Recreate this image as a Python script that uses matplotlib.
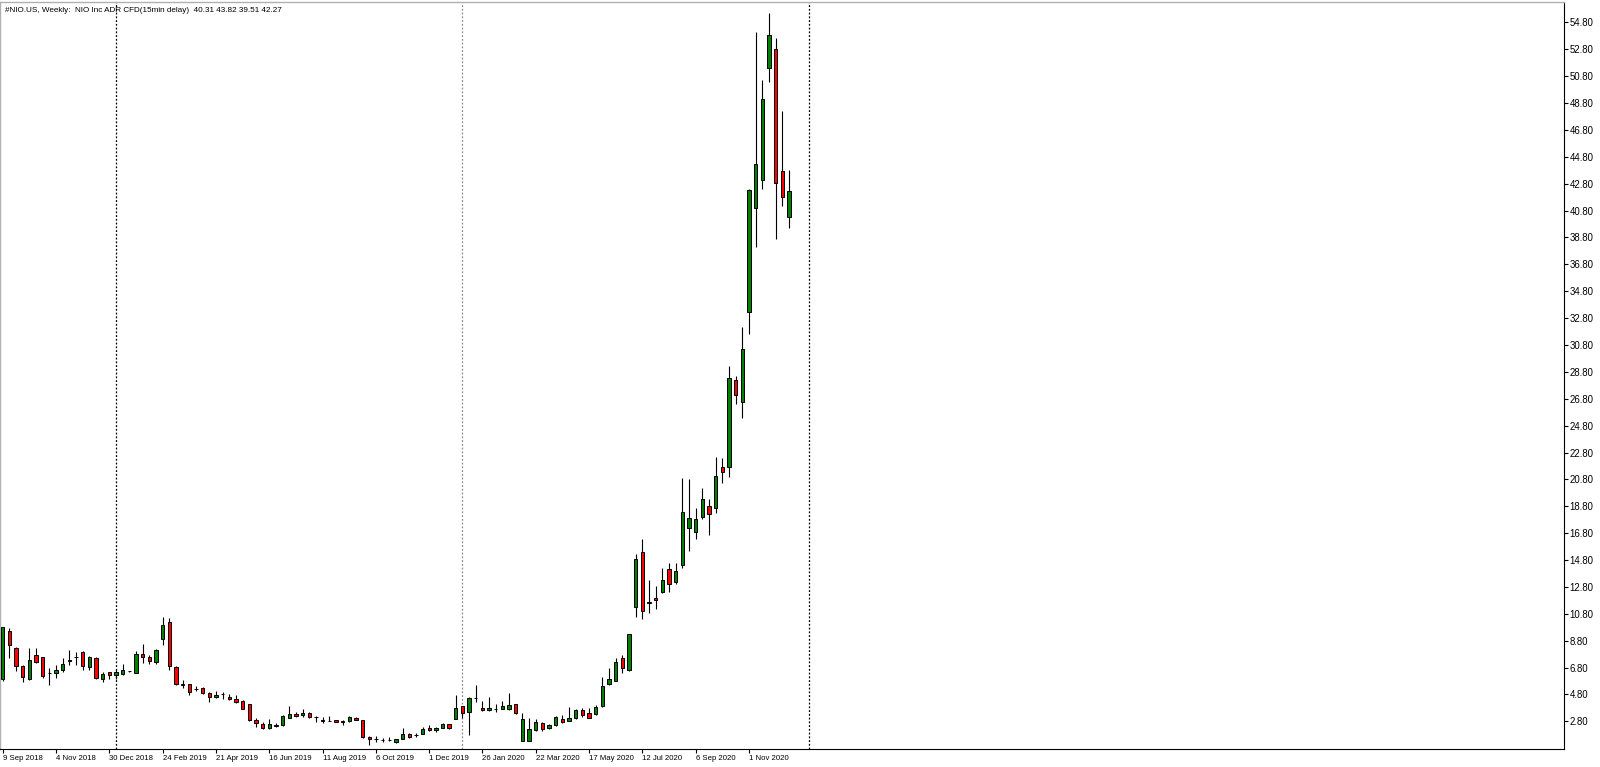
import numpy as np
import pandas as pd
import matplotlib
matplotlib.use("Agg")
import matplotlib.pyplot as plt

plt.rcParams['font.family'] = ['Liberation Sans', 'DejaVu Sans']

# ---- data (weekly OHLC) ----
start_date = "2018-09-09"
opens = [5.93, 9.52, 8.23, 6.94, 5.93, 7.74, 7.59, 6.40, 6.42, 6.59,
         7.30, 7.56, 7.98, 6.87, 7.54, 5.95, 6.45, 6.25, 6.35, 6.52,
         6.42, 7.83, 7.61, 7.24, 8.95, 10.22, 6.87, 5.55, 5.55, 5.20,
         5.25, 4.90, 4.58, 4.80, 4.60, 4.43, 4.31, 4.06, 2.87, 2.62,
         2.27, 2.47, 2.52, 3.07, 3.36, 3.27, 3.41, 3.12, 2.88, 2.84,
         2.87, 2.84, 2.84, 3.07, 2.89, 1.65, 1.45, 1.40, 1.40, 1.25,
         1.50, 1.83, 1.77, 1.86, 2.33, 2.13, 2.33, 2.60, 2.97, 3.94,
         3.52, 4.51, 3.82, 3.64, 3.72, 3.72, 3.72, 4.06, 1.35, 1.35,
         2.15, 2.67, 2.27, 2.52, 2.97, 2.84, 3.02, 3.64, 3.41, 3.34,
         3.93, 5.57, 5.82, 7.48, 6.61, 11.32, 15.37, 11.64, 11.95, 12.42,
         14.15, 13.14, 14.45, 17.15, 16.91, 18.02, 18.84, 18.64, 21.69, 21.75,
         28.20, 26.59, 33.23, 40.97, 43.08, 51.39, 52.82, 43.77, 40.31]
highs = [9.85, 9.72, 8.31, 6.99, 8.28, 8.23, 7.62, 6.74, 6.99, 7.54,
         8.11, 7.98, 8.03, 7.66, 7.61, 6.45, 6.50, 6.69, 7.04, 6.55,
         8.03, 8.53, 7.74, 8.18, 10.59, 10.51, 6.90, 5.88, 5.58, 5.45,
         5.32, 4.95, 5.05, 4.95, 4.80, 4.75, 4.35, 4.08, 3.07, 2.77,
         2.94, 2.65, 3.27, 3.96, 3.46, 3.69, 3.46, 3.19, 3.12, 3.19,
         2.89, 2.87, 3.22, 3.12, 2.92, 1.68, 1.70, 1.57, 1.65, 1.47,
         2.27, 1.95, 1.90, 2.40, 2.53, 2.35, 2.65, 2.63, 4.76, 3.96,
         4.59, 5.50, 4.31, 4.58, 4.06, 4.31, 4.88, 4.09, 3.39, 3.02,
         2.94, 2.72, 2.59, 3.19, 3.27, 3.83, 3.71, 3.76, 3.76, 4.01,
         6.07, 6.74, 7.48, 7.73, 9.30, 15.24, 16.33, 13.31, 12.86, 14.18,
         14.60, 14.60, 20.87, 20.82, 18.67, 20.13, 19.34, 22.49, 22.36, 29.24,
         28.49, 32.12, 42.40, 54.11, 50.52, 55.53, 53.62, 48.21, 43.82]
lows = [5.80, 7.49, 6.57, 5.75, 5.85, 7.12, 6.00, 5.50, 6.05, 6.45,
        6.99, 6.99, 6.62, 6.64, 5.95, 5.70, 5.93, 5.95, 6.25, 6.48,
        6.37, 7.12, 7.04, 7.04, 8.48, 6.62, 5.50, 5.30, 4.76, 5.03,
        4.80, 4.26, 4.51, 4.43, 4.41, 4.13, 3.69, 2.84, 2.40, 2.22,
        2.22, 2.40, 2.45, 3.02, 3.12, 3.14, 3.02, 2.72, 2.70, 2.80,
        2.72, 2.52, 2.77, 2.87, 1.57, 1.03, 1.28, 1.28, 1.35, 1.22,
        1.45, 1.58, 1.65, 1.83, 2.05, 2.00, 2.28, 2.25, 2.94, 3.02,
        1.78, 4.26, 3.59, 3.59, 3.52, 3.69, 3.64, 3.34, 1.33, 1.33,
        2.07, 2.10, 2.22, 2.44, 2.69, 2.82, 2.97, 3.09, 3.01, 3.26,
        3.88, 5.50, 5.80, 6.36, 6.56, 10.53, 10.38, 10.83, 11.15, 12.37,
        12.39, 13.04, 14.23, 15.49, 16.38, 17.82, 16.63, 18.32, 20.50, 21.00,
        26.39, 25.35, 31.59, 38.07, 42.41, 50.39, 38.66, 41.17, 39.51]
closes = [9.79, 8.48, 6.92, 6.12, 7.34, 7.24, 6.20, 6.38, 6.64, 7.07,
          7.34, 7.58, 6.92, 7.59, 6.00, 6.32, 6.25, 6.45, 6.59, 6.52,
          7.79, 7.59, 7.31, 8.11, 9.97, 6.94, 5.58, 5.53, 4.96, 5.18,
          4.88, 4.60, 4.78, 4.86, 4.48, 4.26, 3.71, 2.89, 2.65, 2.27,
          2.57, 2.49, 3.19, 3.36, 3.19, 3.44, 3.14, 3.09, 2.86, 2.85,
          2.74, 2.75, 3.12, 2.89, 1.60, 1.45, 1.47, 1.41, 1.41, 1.45,
          1.85, 1.65, 1.79, 2.20, 2.13, 2.30, 2.57, 2.33, 3.77, 3.39,
          4.56, 4.53, 3.67, 3.77, 3.74, 3.96, 4.01, 3.39, 2.97, 2.22,
          2.72, 2.22, 2.52, 3.09, 2.77, 3.04, 3.66, 3.26, 3.06, 3.83,
          5.45, 5.94, 7.18, 6.74, 9.27, 14.87, 10.98, 11.66, 11.80, 13.28,
          12.99, 13.95, 18.37, 17.90, 17.87, 19.34, 18.19, 21.05, 21.37, 28.37,
          27.08, 30.50, 42.33, 44.27, 49.10, 53.87, 42.88, 41.79, 42.27]
separator_dates = ["2019-01-06", "2020-01-05", "2021-01-03"]
separator_colors = ["black", "#8c8c8c", "black"]
title_text = "#NIO.US, Weekly:  NIO Inc ADR CFD(15min delay)  40.31 43.82 39.51 42.27"
price_ticks = [2.8 + 2 * k for k in range(27)]

# ---- figure ----
W, H = 1600, 767
fig = plt.figure(figsize=(W / 100, H / 100), dpi=100)
ax = fig.add_axes([0 / W, (H - 749) / H, 1564 / W, (749 - 2) / H])

n = len(opens)
dates = pd.date_range(start_date, periods=n, freq="7D")
x = np.arange(n)
o = np.array(opens); c = np.array(closes); h = np.array(highs); l = np.array(lows)
up = c >= o
colors = np.where(up, "#008000", "#ff0000")

ax.vlines(x, l, h, color="black", lw=0.8, zorder=2)
ax.bar(x, np.abs(c - o), bottom=np.minimum(o, c), width=0.5,
       color=colors, edgecolor="black", linewidth=0.7, zorder=3)

t0 = pd.Timestamp(start_date)
for sd, sc in zip(separator_dates, separator_colors):
    xi = (pd.Timestamp(sd) - t0).days / 7
    ax.axvline(xi, color=sc, lw=0.9, ls=(0, (1.5, 1.5)), zorder=1)

ax.set_xlim(-0.405, 234.3)
ax.set_ylim(0.74, 56.32)

# x ticks every 8 weeks
xt = x[::8]
ax.set_xticks(xt)
ax.set_xticklabels([f"{d.day} {d.strftime('%b %Y')}" for d in dates[::8]],
                   ha="left", fontsize=5.6)
ax.tick_params(axis="x", direction="out", length=3, width=0.8, pad=1.0, colors="black")

ax.yaxis.tick_right()
ax.set_yticks(price_ticks)
ax.set_yticklabels([f"{v:.2f}" for v in price_ticks], fontsize=6.9)
ax.tick_params(axis="y", direction="out", length=3, width=0.8, pad=0.8, colors="black")

for s in ["top", "left"]:
    ax.spines[s].set_color("#b0b0b0")
    ax.spines[s].set_linewidth(1.0)
for s in ["right", "bottom"]:
    ax.spines[s].set_color("black")
    ax.spines[s].set_linewidth(0.8)

fig.text(5 / W, 1 - 10 / H, title_text, fontsize=5.9, va="center", ha="left", color="black")

fig.savefig("out.png", dpi=100, facecolor="white")
